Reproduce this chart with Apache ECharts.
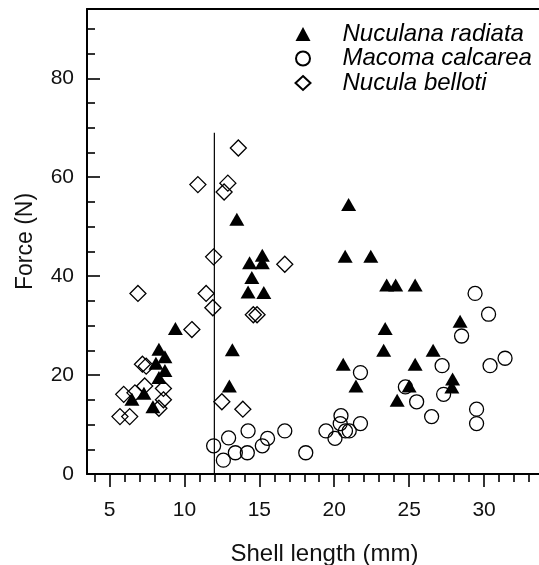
<!DOCTYPE html>
<html>
<head>
<meta charset="utf-8">
<script src="https://cdn.jsdelivr.net/npm/echarts@6/dist/echarts.min.js"></script>
<style>
html,body{margin:0;padding:0;background:#fff;}
#chart{width:539px;height:565px;}
</style>
</head>
<body>
<div id="chart"></div>
<script>
// ---- data (shell length mm, force N) ----
const seriesNames = ['Nuculana radiata', 'Macoma calcarea', 'Nucula belloti'];

const nuculanaRadiata = [
  [6.5,15.1],[7.3,16.3],[7.9,13.6],[8.3,19.5],[8.7,20.9],[8.1,22.4],[8.7,23.7],[8.3,25.2],[9.4,29.4],
  [13.0,17.8],[13.2,25.1],[13.5,51.5],[14.35,42.7],[14.5,39.7],[14.25,36.8],[15.2,44.2],[15.2,42.7],[15.3,36.7],
  [20.6,22.2],[21.45,17.8],[20.96,54.5],[20.73,44.0],[22.44,44.0],[23.5,38.2],[24.1,38.2],[25.4,38.2],
  [23.4,29.4],[23.3,25.0],[25.4,22.2],[25.0,17.8],[24.2,14.9],[26.6,25.0],[27.9,19.2],[27.85,17.6],[28.4,30.9]
];

const macomaCalcarea = [
  [11.95,5.7],[12.6,2.8],[12.95,7.3],[13.4,4.3],[14.2,4.3],[14.25,8.7],[15.2,5.7],[15.55,7.2],[16.7,8.7],
  [18.1,4.3],[19.45,8.7],[20.05,7.2],[20.4,10.2],[20.45,11.8],[20.75,8.7],[21.0,8.7],[21.75,10.2],[21.75,20.5],
  [24.75,17.6],[25.5,14.6],[26.5,11.6],[27.2,21.9],[27.3,16.1],[28.5,27.9],[29.4,36.5],[29.5,13.1],[29.5,10.2],
  [30.3,32.3],[30.4,21.9],[31.4,23.4]
];

const nuculaBelloti = [
  [5.7,11.6],[6.35,11.6],[5.95,16.1],[6.7,16.4],[7.2,22.2],[7.45,21.8],[7.35,17.8],[8.6,17.3],[8.6,15.0],
  [8.3,13.3],[6.9,36.5],[10.5,29.2],[10.9,58.5],[11.45,36.5],[11.9,33.6],[11.95,43.9],[12.5,14.6],[12.65,57.0],
  [12.9,58.8],[13.6,65.9],[13.9,13.1],[14.6,32.2],[14.85,32.2],[16.7,42.4]
];

const dividerLine = [[12, 0], [12, 69]];

const xMajorTicks = [5, 10, 15, 20, 25, 30];
const xMinorTicks = [4, 6, 7, 8, 9, 11, 12, 13, 14, 16, 17, 18, 19, 21, 22, 23, 24, 26, 27, 28, 29, 31, 32, 33];
const yMajorTicks = [0, 20, 40, 60, 80];
const yMinorTicks = [5, 10, 15, 25, 30, 35, 45, 50, 55, 65, 70, 75, 85, 90];

const FONT = '"Liberation Sans", Arial, Helvetica, sans-serif';
const X_MIN = 3.5, X_MAX = 34, Y_MIN = 0, Y_MAX = 94;

const chart = echarts.init(document.getElementById('chart'), null, {renderer: 'canvas'});

const baseX = {type: 'value', min: X_MIN, max: X_MAX, splitLine: {show: false}};
const baseY = {type: 'value', min: Y_MIN, max: Y_MAX, splitLine: {show: false}};

chart.setOption({
  animation: false,
  backgroundColor: '#fff',
  grid: {left: 87, top: 9, width: 457, height: 465, containLabel: false, outerBoundsMode: 'none'},
  legend: {
    data: seriesNames,
    orient: 'vertical',
    left: 289.5,
    top: 17,
    padding: 5,
    itemWidth: 15,
    itemHeight: 14,
    itemGap: 0.5,
    selectedMode: false,
    textStyle: {fontSize: 24, fontStyle: 'italic', fontFamily: FONT, color: '#000', lineHeight: 24, padding: [0, 0, 0, 27]}
  },
  xAxis: [
    Object.assign({}, baseX, {
      position: 'bottom',
      name: 'Shell length (mm)',
      nameLocation: 'middle',
      nameGap: 68,
      nameTextStyle: {fontSize: 24, fontFamily: FONT, color: '#111', padding: [0, 0, 0, 18]},
      axisLine: {show: true, onZero: false, lineStyle: {color: '#000', width: 2}},
      axisTick: {show: true, inside: false, length: 13, customValues: xMajorTicks, lineStyle: {color: '#000', width: 1.6}},
      axisLabel: {show: true, customValues: xMajorTicks, margin: 26, fontSize: 21, fontFamily: FONT, color: '#111'}
    }),
    Object.assign({}, baseX, {
      position: 'bottom',
      axisLine: {show: false, onZero: false},
      axisTick: {show: true, inside: false, length: 8, customValues: xMinorTicks, lineStyle: {color: '#000', width: 1.6}},
      axisLabel: {show: false}
    }),
    Object.assign({}, baseX, {
      position: 'top',
      axisLine: {show: true, onZero: false, lineStyle: {color: '#000', width: 2}},
      axisTick: {show: false},
      axisLabel: {show: false}
    })
  ],
  yAxis: [
    Object.assign({}, baseY, {
      position: 'left',
      name: 'Force (N)',
      nameLocation: 'middle',
      nameGap: 50,
      nameTextStyle: {fontSize: 23, fontFamily: FONT, color: '#111'},
      axisLine: {show: true, onZero: false, lineStyle: {color: '#000', width: 2}},
      axisTick: {show: true, inside: true, length: 13, customValues: yMajorTicks, lineStyle: {color: '#000', width: 1.6}},
      axisLabel: {show: true, customValues: yMajorTicks, margin: 13, fontSize: 21, fontFamily: FONT, color: '#111'}
    }),
    Object.assign({}, baseY, {
      position: 'left',
      axisLine: {show: false, onZero: false},
      axisTick: {show: true, inside: true, length: 8, customValues: yMinorTicks, lineStyle: {color: '#000', width: 1.6}},
      axisLabel: {show: false}
    })
  ],
  series: [
    {
      name: 'divider', type: 'line', data: dividerLine, xAxisIndex: 0, yAxisIndex: 0,
      symbol: 'none', silent: true, z: 1,
      lineStyle: {color: '#000', width: 1.2}
    },
    {
      name: seriesNames[0], type: 'scatter', data: nuculanaRadiata, xAxisIndex: 0, yAxisIndex: 0,
      symbol: 'triangle', symbolSize: [15, 13], z: 3,
      itemStyle: {color: '#000', opacity: 1}
    },
    {
      name: seriesNames[1], type: 'scatter', data: macomaCalcarea, xAxisIndex: 0, yAxisIndex: 0,
      symbol: 'circle', symbolSize: 14, z: 2,
      itemStyle: {color: 'rgba(255,255,255,0)', borderColor: '#000', borderWidth: 1.3, opacity: 1}
    },
    {
      name: seriesNames[2], type: 'scatter', data: nuculaBelloti, xAxisIndex: 0, yAxisIndex: 0,
      symbol: 'diamond', symbolSize: [16, 16], z: 2,
      itemStyle: {color: 'rgba(255,255,255,0)', borderColor: '#000', borderWidth: 1.3, opacity: 1}
    }
  ]
});
</script>
</body>
</html>
